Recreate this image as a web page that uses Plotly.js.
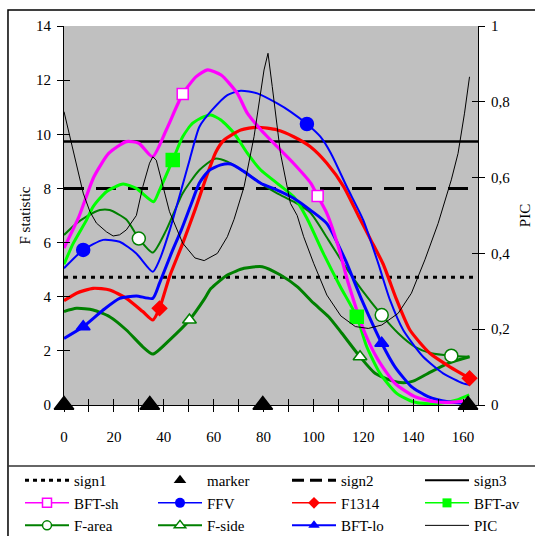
<!DOCTYPE html>
<html><head><meta charset="utf-8">
<script src="https://cdn.plot.ly/plotly-3.0.1.min.js"></script>
<style>html,body{margin:0;padding:0;background:#fff;}#chart{width:535px;height:536px;}</style>
</head><body><div id="chart"></div>
<script>
// ---- data ----
const xLimits = [0, 166];
const fLimits = [0, 14];
const picLimits = [0, 1];
const xTickVals = [0,10,20,30,40,50,60,70,80,90,100,110,120,130,140,150,160];
const xTickText = ['0','','20','','40','','60','','80','','100','','120','','140','','160'];
const fTickVals = [0,2,4,6,8,10,12,14];
const picTickVals = [0,0.2,0.4,0.6,0.8,1];
const picTickText = ['0','0,2','0,4','0,6','0,8','1'];

const sign1 = 4.72, sign2 = 8.0, sign3 = 9.73;

const markerX = [0, 34.4, 79.7, 162];
const markerY = [0, 0, 0, 0];

const shX = [0, 6, 12, 18, 25, 30, 35.5, 41, 47.6, 53, 57.6, 63, 69.5, 73.5, 79, 85.5, 92, 99, 101.7, 105.4, 110, 114, 120.7, 126, 132.7, 140.7, 148.7, 155, 162];
const shY = [5.8, 6.96, 8.43, 9.3, 9.73, 9.67, 9.17, 10.16, 11.49, 12.13, 12.38, 12.19, 11.51, 10.78, 10.16, 9.54, 8.93, 8.19, 7.72, 7.08, 5.85, 4.5, 2.65, 1.66, 0.8, 0.31, 0.12, 0.1, 0.15];
const shMX = [47.6, 101.7], shMY = [11.49, 7.72];

const ffvX = [0, 7.7, 15.7, 22.3, 29, 35.6, 38.3, 42.4, 47, 50.5, 54.3, 59.4, 65.5, 70.9, 77.5, 85.5, 90.8, 97.4, 102.8, 107, 113.4, 120, 126, 130.7, 136, 144, 152, 160, 162.5];
const ffvY = [5.05, 5.73, 6.1, 6.03, 5.6, 4.92, 5.36, 6.46, 7.94, 9.1, 10.28, 10.9, 11.45, 11.61, 11.51, 11.14, 10.84, 10.38, 9.91, 9.3, 8.06, 6.83, 5.23, 3.88, 2.77, 1.78, 1.17, 0.8, 0.75];
const ffvMX = [7.7, 97.4], ffvMY = [5.73, 10.38];

const f13X = [0, 5, 11.7, 18.3, 25, 31.6, 35.6, 38.3, 42.3, 47.6, 52.5, 57.6, 60.9, 64.2, 70.9, 77.5, 85.5, 92.1, 98.8, 105.4, 112.2, 118, 123, 128, 133.4, 138.7, 146.7, 154.7, 162.6];
const f13Y = [3.85, 4.13, 4.31, 4.25, 3.94, 3.45, 3.14, 3.57, 4.74, 5.97, 7.2, 8.56, 9.35, 9.79, 10.16, 10.26, 10.16, 9.91, 9.54, 8.93, 8.06, 7.0, 6.1, 5.2, 3.88, 2.77, 1.91, 1.41, 0.99];
const f13MX = [38.3, 162.6], f13MY = [3.57, 0.99];

const avX = [0, 3.7, 9, 11.7, 17, 23.7, 29, 35.9, 38.3, 43.6, 47.6, 51.6, 56.2, 58.9, 62.9, 68.2, 73.5, 78.9, 85.5, 92.1, 97.4, 104, 110.8, 117.4, 121.4, 126.7, 133.4, 140, 146, 152, 158, 162.5];
const avY = [5.2, 5.97, 6.83, 7.33, 7.88, 8.16, 8.0, 7.51, 7.94, 9.05, 9.91, 10.41, 10.65, 10.71, 10.53, 10.04, 9.3, 8.68, 8.19, 7.69, 6.9, 5.6, 4.37, 3.26, 2.15, 1.17, 0.43, 0.12, 0.05, 0.08, 0.2, 0.37];
const avMX = [43.6, 117.4], avMY = [9.05, 3.26];

const faX = [0, 5, 9, 14.4, 18.3, 25, 30, 35.6, 41, 47.6, 54.3, 60.5, 65.5, 72.2, 78.9, 85.5, 92.1, 98.8, 106, 112.8, 119.4, 127.4, 134, 140.7, 147.3, 155.3, 162.6];
const faY = [6.28, 6.71, 6.96, 7.2, 7.2, 6.85, 6.15, 5.63, 6.46, 7.82, 8.68, 9.1, 8.99, 8.62, 8.19, 7.82, 7.51, 7.1, 6.1, 5.11, 4.25, 3.32, 2.65, 2.15, 1.91, 1.82, 1.78];
const faMX = [30, 127.4, 155.3], faMY = [6.15, 3.32, 1.82];

const fsX = [0, 5, 11.7, 18.3, 25, 31.6, 35.6, 42.3, 50.3, 56.2, 58.9, 65.5, 72.2, 79.5, 86.8, 93.5, 100.1, 106.1, 111.4, 118.7, 124.7, 131.3, 136, 140, 146, 154, 162.6];
const fsY = [3.45, 3.57, 3.51, 3.26, 2.77, 2.15, 1.88, 2.4, 3.14, 3.9, 4.3, 4.8, 5.05, 5.11, 4.8, 4.37, 3.76, 3.26, 2.65, 1.78, 1.17, 0.9, 0.82, 0.88, 1.17, 1.54, 1.78];
const fsMX = [50.3, 118.7], fsMY = [3.14, 1.78];

const loX = [0, 7.7, 15.7, 22.3, 29, 35.6, 38.3, 43.6, 47, 50.9, 54.3, 58, 62.9, 66.9, 72.2, 78.9, 85.5, 92.1, 98.8, 105.4, 112.8, 119.4, 127.4, 132.7, 139.3, 146, 154, 162];
const loY = [2.46, 2.89, 3.51, 3.94, 4.03, 3.94, 4.5, 5.73, 6.46, 7.4, 8.2, 8.65, 8.87, 8.9, 8.62, 8.19, 7.94, 7.64, 7.2, 6.7, 5.36, 3.88, 2.28, 1.41, 0.68, 0.31, 0.12, 0.06];
const loMX = [7.7, 127.4], loMY = [2.89, 2.28];

const picX = [0, 2.4, 5.1, 7.7, 10.4, 13, 17, 19.7, 22.3, 25, 29, 31.6, 34.3, 35.6, 37, 39.6, 42.3, 47.6, 52.5, 56.2, 61.5, 65.5, 68.2, 72.2, 76.2, 80.2, 81.8, 83.5, 86.8, 90.8, 93.5, 96.1, 100.1, 105.4, 111, 116.8, 122, 127.4, 134, 139.3, 144.7, 150, 155.3, 158, 160.6, 162.6];
const picY = [0.774, 0.708, 0.629, 0.559, 0.51, 0.48, 0.457, 0.446, 0.449, 0.462, 0.5, 0.576, 0.638, 0.655, 0.646, 0.576, 0.51, 0.427, 0.388, 0.381, 0.4, 0.444, 0.49, 0.576, 0.708, 0.884, 0.928, 0.84, 0.664, 0.532, 0.5, 0.444, 0.374, 0.29, 0.235, 0.207, 0.202, 0.211, 0.242, 0.295, 0.383, 0.479, 0.594, 0.664, 0.77, 0.866];

// ---- style ----
const FONT = 'Liberation Serif';
const MAG = '#FF00FF', BLUE = '#0000FF', RED = '#FF0000', LIME = '#00FF00', DKG = '#008000';

function line(x, y, color, width, extra) {
  return Object.assign({type:'scatter', mode:'lines', x:x, y:y, showlegend:false, hoverinfo:'skip',
    line:{color:color, width:width, shape:'spline', smoothing:0.6}}, extra || {});
}
function marks(x, y, symbol, color, size, lineColor) {
  return {type:'scatter', mode:'markers', x:x, y:y, showlegend:false, hoverinfo:'skip', cliponaxis:false,
    marker:{symbol:symbol, color:color, size:size, line:{color:lineColor || color, width:1.5}}};
}
function legendItem(name, legendId, mode, lineStyle, markerStyle, yaxis) {
  const t = {type:'scatter', x:[null], y:[null], name:name, mode:mode, showlegend:true, legend:legendId,
    xaxis:'x2', yaxis:yaxis, hoverinfo:'skip'};
  if (lineStyle) t.line = lineStyle;
  if (markerStyle) t.marker = markerStyle;
  return t;
}

const signLine = (v, dash, width) => ({type:'scatter', mode:'lines', x:xLimits, y:[v, v], showlegend:false, hoverinfo:'skip',
  line:{color:'#000', width:width, dash:dash}});

const traces = [
  signLine(sign1, '4px,5px', 3),
  signLine(sign2, '20px,12px', 3),
  signLine(sign3, 'solid', 2.5),
  line(picX, picY, '#000', 1, {yaxis:'y2', line:{color:'#000', width:1, shape:'linear'}}),
  line(faX, faY, DKG, 2),
  line(fsX, fsY, DKG, 3),
  line(avX, avY, LIME, 3),
  line(f13X, f13Y, RED, 3.2),
  line(ffvX, ffvY, BLUE, 2),
  line(loX, loY, BLUE, 3),
  line(shX, shY, MAG, 3.2),
  marks(shMX, shMY, 'square', '#FFFFFF', 11, MAG),
  marks(ffvMX, ffvMY, 'circle', BLUE, 13),
  marks(f13MX, f13MY, 'diamond', RED, 11),
  marks(avMX, avMY, 'square', LIME, 13),
  marks(faMX, faMY, 'circle', '#FFFFFF', 13, DKG),
  marks(fsMX, fsMY, 'triangle-up', '#FFFFFF', 12, DKG),
  marks(loMX, loMY, 'triangle-up', BLUE, 12),
  marks(markerX, markerY, 'triangle-up', '#000', 17),
  // legend entries, one legend per column
  legendItem('sign1', 'legend', 'lines', {color:'#000', width:3, dash:'4px,4px'}, null, 'y3'),
  legendItem('BFT-sh', 'legend', 'lines+markers', {color:MAG, width:1.5}, {symbol:'square', color:'#FFF', size:9, line:{color:MAG, width:1.5}}, 'y3'),
  legendItem('F-area', 'legend', 'lines+markers', {color:DKG, width:2}, {symbol:'circle', color:'#FFF', size:9, line:{color:DKG, width:1.5}}, 'y3'),
  legendItem('marker', 'legend2', 'markers', null, {symbol:'triangle-up', color:'#000', size:11}, 'y3'),
  legendItem('FFV', 'legend2', 'lines+markers', {color:BLUE, width:1.5}, {symbol:'circle', color:BLUE, size:10}, 'y3'),
  legendItem('F-side', 'legend2', 'lines+markers', {color:DKG, width:2}, {symbol:'triangle-up', color:'#FFF', size:10, line:{color:DKG, width:1.5}}, 'y3'),
  legendItem('sign2', 'legend3', 'lines', {color:'#000', width:3, dash:'12px,6px'}, null, 'y4'),
  legendItem('F1314', 'legend3', 'lines+markers', {color:RED, width:1.5}, {symbol:'diamond', color:RED, size:9}, 'y4'),
  legendItem('BFT-lo', 'legend3', 'lines+markers', {color:BLUE, width:2}, {symbol:'triangle-up', color:BLUE, size:10}, 'y4'),
  legendItem('sign3', 'legend4', 'lines', {color:'#000', width:2}, null, 'y4'),
  legendItem('BFT-av', 'legend4', 'lines+markers', {color:LIME, width:1.5}, {symbol:'square', color:LIME, size:9}, 'y4'),
  legendItem('PIC', 'legend4', 'lines', {color:'#000', width:1}, null, 'y4')
];

const tickFont = {family:FONT, size:15, color:'#000'};
const baseAxis = {showgrid:false, zeroline:false, tickcolor:'#000', ticklen:6, tickwidth:1, tickfont:tickFont, fixedrange:true};

const legendBase = (xPx) => ({orientation:'v', x:(xPx - 64) / 414, xanchor:'left', y:-0.156, yanchor:'top',
  itemwidth:44, font:{family:FONT, size:15, color:'#000'}, bgcolor:'rgba(0,0,0,0)', borderwidth:0,
  traceorder:'normal', itemclick:false, itemdoubleclick:false, tracegroupgap:0});

const layout = {
  width:535, height:536,
  margin:{l:64, r:57, t:26, b:131, autoexpand:false},
  paper_bgcolor:'#FFFFFF', plot_bgcolor:'#C0C0C0',
  font:{family:FONT, size:15, color:'#000'},
  showlegend:true,
  xaxis: Object.assign({}, baseAxis, {range:xLimits, autorange:false, tickmode:'array', tickvals:xTickVals, ticktext:xTickText,
    ticks:'outside', showline:true, linecolor:'#000', linewidth:1, ticklabelstandoff:12}),
  xaxis2: Object.assign({}, baseAxis, {overlaying:'x', anchor:'y', side:'bottom', range:xLimits, autorange:false, tickmode:'array',
    tickvals:xTickVals, ticks:'inside', showticklabels:false, showline:false}),
  yaxis: Object.assign({}, baseAxis, {range:fLimits, autorange:false, tickmode:'array', tickvals:fTickVals, ticks:'outside',
    showline:true, linecolor:'#000', linewidth:1, ticklabelstandoff:3,
    title:{text:'F statistic', font:{family:FONT, size:15, color:'#000'}, standoff:1}}),
  yaxis2: Object.assign({}, baseAxis, {overlaying:'y', side:'right', anchor:'x', range:picLimits, autorange:false, tickmode:'array',
    tickvals:picTickVals, ticktext:picTickText, ticks:'outside', showline:true, linecolor:'#000', linewidth:1, ticklabelstandoff:3,
    title:{text:'PIC', font:{family:FONT, size:15, color:'#000'}, standoff:10}}),
  yaxis3: Object.assign({}, baseAxis, {overlaying:'y', side:'left', anchor:'x2', range:fLimits, autorange:false, tickmode:'array',
    tickvals:fTickVals, ticks:'inside', showticklabels:false, showline:false}),
  yaxis4: Object.assign({}, baseAxis, {overlaying:'y', side:'right', anchor:'x2', range:picLimits, autorange:false, tickmode:'array',
    tickvals:picTickVals, ticks:'inside', showticklabels:false, showline:false}),
  legend: legendBase(20),
  legend2: legendBase(153),
  legend3: legendBase(287),
  legend4: legendBase(420),
  shapes:[
    {type:'rect', xref:'paper', yref:'paper', x0:-0.1353, x1:1.2, y0:-0.4, y1:1.0422, line:{color:'#000', width:1.5}, fillcolor:'rgba(0,0,0,0)', layer:'below'},
    {type:'line', xref:'paper', yref:'paper', x0:-0.1353, x1:1.2, y0:-0.161, y1:-0.161, line:{color:'#333', width:1.5}}
  ]
};

Plotly.newPlot('chart', traces, layout, {displayModeBar:false, staticPlot:true});
</script>
</body></html>
